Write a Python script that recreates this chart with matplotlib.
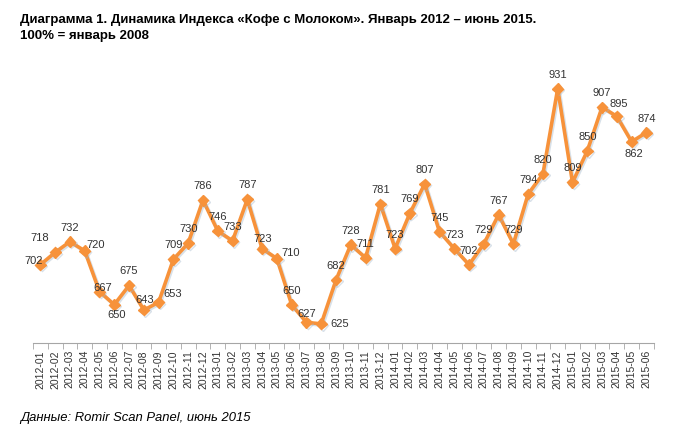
import matplotlib.pyplot as plt
import matplotlib.patheffects as pe
import numpy as np

plt.rcParams['font.family'] = ['Liberation Sans', 'DejaVu Sans']

months = ['2012-01', '2012-02', '2012-03', '2012-04', '2012-05', '2012-06', '2012-07', '2012-08',
          '2012-09', '2012-10', '2012-11', '2012-12', '2013-01', '2013-02', '2013-03', '2013-04',
          '2013-05', '2013-06', '2013-07', '2013-08', '2013-09', '2013-10', '2013-11', '2013-12',
          '2014-01', '2014-02', '2014-03', '2014-04', '2014-05', '2014-06', '2014-07', '2014-08',
          '2014-09', '2014-10', '2014-11', '2014-12', '2015-01', '2015-02', '2015-03', '2015-04',
          '2015-05', '2015-06']
index_vals = [702, 718, 732, 720, 667, 650, 675, 643, 653, 709, 730, 786,
              746, 733, 787, 723, 710, 650, 627, 625, 682, 728, 711, 781,
              723, 769, 807, 745, 723, 702, 729, 767, 729, 794, 820, 931,
              809, 850, 907, 895, 862, 874]

# label offsets in pixels (default: above the point)
label_off = {0: (-7, 4), 1: (-15, 14), 3: (11, 6), 4: (3, 4), 5: (2, -10), 7: (1, 10),
             8: (14, 8), 15: (1, 10), 16: (14, 6), 18: (0, 8), 19: (18, 0),
             39: (2, 12), 40: (2, -12)}

orange = '#F7923A'

fig = plt.figure(figsize=(6.77, 4.41), dpi=100)
ax = fig.add_axes([0.0487, 0.222, 0.917, 0.61])

x = np.arange(len(months))
ax.plot(x, index_vals, color=orange, lw=2.6, marker='D', ms=5.5, mec=orange, mfc=orange,
        path_effects=[pe.SimpleLineShadow(offset=(1, -1), shadow_color='#9fb4c8', alpha=0.4), pe.Normal()])

for i, v in enumerate(index_vals):
    dx, dy = label_off.get(i, (0, 14))
    ax.annotate(str(v), (i, v), xytext=(dx, dy), textcoords='offset pixels',
                ha='center', va='center', fontsize=8, color='#333333')

ax.set_xlim(-0.5, len(months) - 0.5)
ax.set_ylim(600, 950)
ax.set_xticks(x)
ax.set_xticklabels(months, rotation=90, fontsize=7.5, color='#333333')
ax.set_xticks(np.arange(-0.5, len(months)), minor=True)
ax.tick_params(axis='x', which='major', length=0, pad=5)
ax.tick_params(axis='x', which='minor', length=4, color='#a6a6a6')
ax.set_yticks([])
for s in ['top', 'right', 'left']:
    ax.spines[s].set_visible(False)
ax.spines['bottom'].set_color('#a6a6a6')

fig.text(0.03, 0.955, 'Диаграмма 1. Динамика Индекса «Кофе с Молоком». Январь 2012 – июнь 2015.',
         fontsize=9.5, fontweight='bold', va='center')
fig.text(0.03, 0.918, '100% = январь 2008', fontsize=9.5, fontweight='bold', va='center')
fig.text(0.03, 0.052, 'Данные: Romir Scan Panel, июнь 2015', fontsize=9.4, style='italic', va='center')

fig.savefig('out.png', dpi=100)
